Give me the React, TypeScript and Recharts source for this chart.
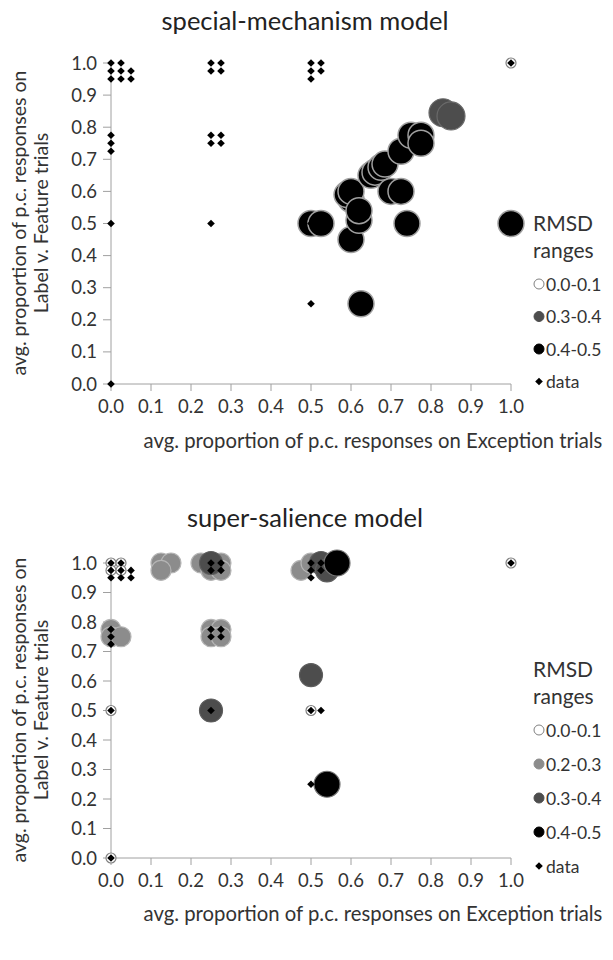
import React from "react";
import {
  ScatterChart,
  Scatter,
  XAxis,
  YAxis,
  Customized,
} from "recharts";

// empirical data (same in both panels)
const empirical = [
  { x: 0, y: 1 }, { x: 0, y: 0.975 }, { x: 0, y: 0.95 },
  { x: 0.025, y: 1 }, { x: 0.025, y: 0.975 }, { x: 0.025, y: 0.95 },
  { x: 0.05, y: 0.975 }, { x: 0.05, y: 0.95 },
  { x: 0, y: 0.775 }, { x: 0, y: 0.75 }, { x: 0, y: 0.725 },
  { x: 0.25, y: 1 }, { x: 0.275, y: 1 }, { x: 0.25, y: 0.975 }, { x: 0.275, y: 0.975 },
  { x: 0.25, y: 0.775 }, { x: 0.275, y: 0.775 }, { x: 0.25, y: 0.75 }, { x: 0.275, y: 0.75 },
  { x: 0, y: 0.5 }, { x: 0.25, y: 0.5 }, { x: 0.5, y: 0.5 }, { x: 0.525, y: 0.5 },
  { x: 0, y: 0 },
  { x: 0.5, y: 1 }, { x: 0.525, y: 1 }, { x: 0.5, y: 0.975 }, { x: 0.525, y: 0.975 }, { x: 0.5, y: 0.95 },
  { x: 0.5, y: 0.25 },
  { x: 1, y: 1 },
];

// special-mechanism model fits
const specWhite = [{ x: 1, y: 1 }];
const specDark = [{ x: 0.83, y: 0.845 }, { x: 0.85, y: 0.835 }];
const specBlack = [
  { x: 0.5, y: 0.5 }, { x: 0.525, y: 0.5 },
  { x: 0.6, y: 0.45 }, { x: 0.625, y: 0.25 },
  { x: 0.74, y: 0.5 }, { x: 1, y: 0.5 },
  { x: 0.6, y: 0.575 }, { x: 0.59, y: 0.59 }, { x: 0.6, y: 0.6 },
  { x: 0.62, y: 0.51 }, { x: 0.62, y: 0.54 },
  { x: 0.65, y: 0.65 }, { x: 0.66, y: 0.66 }, { x: 0.675, y: 0.675 }, { x: 0.685, y: 0.685 },
  { x: 0.7, y: 0.6 }, { x: 0.725, y: 0.6 },
  { x: 0.725, y: 0.725 },
  { x: 0.75, y: 0.775 }, { x: 0.775, y: 0.775 }, { x: 0.775, y: 0.75 },
];

// super-salience model fits
const superWhite = [
  { x: 0, y: 1 }, { x: 0.025, y: 1 }, { x: 0, y: 0.975 }, { x: 0.025, y: 0.975 },
  { x: 0, y: 0.5 }, { x: 0, y: 0 }, { x: 0.5, y: 0.5 }, { x: 1, y: 1 },
];
const superLight = [
  { x: 0, y: 0.775 }, { x: 0, y: 0.75 }, { x: 0.025, y: 0.75 },
  { x: 0.125, y: 1 }, { x: 0.15, y: 1 }, { x: 0.125, y: 0.975 },
  { x: 0.225, y: 1 }, { x: 0.275, y: 1 }, { x: 0.25, y: 0.975 }, { x: 0.275, y: 0.975 },
  { x: 0.25, y: 0.775 }, { x: 0.275, y: 0.775 }, { x: 0.25, y: 0.75 }, { x: 0.275, y: 0.75 },
  { x: 0.475, y: 0.975 }, { x: 0.5, y: 1 },
];
const superDark = [
  { x: 0.25, y: 1 }, { x: 0.525, y: 1 }, { x: 0.54, y: 0.975 },
  { x: 0.25, y: 0.5 }, { x: 0.5, y: 0.62 },
];
const superBlack = [{ x: 0.565, y: 1 }, { x: 0.54, y: 0.25 }];

const ticks = [0, 0.1, 0.2, 0.3, 0.4, 0.5, 0.6, 0.7, 0.8, 0.9, 1];
const specLegend = ["0.0-0.1", "0.3-0.4", "0.4-0.5", "data"];
const superLegend = ["0.0-0.1", "0.2-0.3", "0.3-0.4", "0.4-0.5", "data"];

const FONT = "Lato, 'Open Sans', sans-serif";
const AXIS = "#a0a0a0";
const TXT = "#333";

const colors: any = {
  "0.0-0.1": { fill: "#fff", stroke: "#808080" },
  "0.2-0.3": { fill: "#8c8c8c", stroke: "#b5b5b5" },
  "0.3-0.4": { fill: "#4d4d4d", stroke: "#6a6a6a" },
  "0.4-0.5": { fill: "#000", stroke: "#a0a0a0" },
};

const dot = (r: number, fill: string, stroke: string, sw = 1.2) => (p: any) =>
  <circle cx={p.cx} cy={p.cy} r={r} fill={fill} stroke={stroke} strokeWidth={sw} />;

const diamond = (p: any) => {
  const s = 3.8;
  return (
    <polygon
      points={`${p.cx},${p.cy - s} ${p.cx + s},${p.cy} ${p.cx},${p.cy + s} ${p.cx - s},${p.cy}`}
      fill="#000"
    />
  );
};

const LegendBlock = ({ items, top, gap }: any) => (
  <g fontFamily={FONT} fill={TXT}>
    <text x={533} y={top} fontSize={21} dominantBaseline="central">RMSD</text>
    <text x={533} y={top + 27} fontSize={21} dominantBaseline="central">ranges</text>
    {items.map((it: string, i: number) => {
      const y = top + 62 + i * gap;
      return (
        <g key={it}>
          {it === "data" ? (
            diamond({ cx: 539, cy: y })
          ) : (
            <circle cx={539} cy={y} r={5} fill={colors[it].fill} stroke={it === "0.0-0.1" ? "#808080" : colors[it].fill} strokeWidth={1} />
          )}
          <text x={546} y={y} fontSize={17.5} dominantBaseline="central">{it}</text>
        </g>
      );
    })}
  </g>
);

const Panel = ({ title, series, legend, titleY, labelY, xTitleY, legendTop, legendGap, margin }: any) => (
  <ScatterChart width={613} height={470} margin={margin}>
    <XAxis
      type="number"
      dataKey="x"
      domain={[0, 1]}
      ticks={ticks}
      tickFormatter={(v: number) => v.toFixed(1)}
      stroke={AXIS}
      tickSize={7}
      tickMargin={9}
      height={60}
      tick={{ fill: TXT, fontSize: 18.5, fontFamily: FONT }}
      interval={0}
    />
    <YAxis
      type="number"
      dataKey="y"
      domain={[0, 1]}
      ticks={ticks}
      tickFormatter={(v: number) => v.toFixed(1)}
      stroke={AXIS}
      tickSize={8}
      tickMargin={6}
      width={111}
      tick={{ fill: TXT, fontSize: 18.5, fontFamily: FONT }}
      interval={0}
    />
    {series.map((s: any, i: number) => (
      <Scatter key={i} data={s.data} shape={s.shape} isAnimationActive={false} />
    ))}
    <Scatter data={empirical} shape={diamond} isAnimationActive={false} />
    <Customized
      component={() => (
        <g fontFamily={FONT} fill={TXT}>
          <text x={305} y={titleY} fontSize={25.5} textAnchor="middle" dominantBaseline="central" fill="#222">{title}</text>
          <text transform={`translate(18, ${labelY}) rotate(-90)`} fontSize={19.5} textAnchor="middle" dominantBaseline="central">avg. proportion of p.c. responses on</text>
          <text transform={`translate(40, ${labelY}) rotate(-90)`} fontSize={19.5} textAnchor="middle" dominantBaseline="central">Label v. Feature trials</text>
          <text x={373} y={xTitleY} fontSize={20.3} textAnchor="middle" dominantBaseline="central">avg. proportion of p.c. responses on Exception trials</text>
          <LegendBlock items={legend} top={legendTop} gap={legendGap} />
        </g>
      )}
    />
  </ScatterChart>
);

export default function App() {
  return (
    <div style={{ position: "absolute", left: 0, top: 0, width: 613, height: 960, background: "#fff" }}>
      <Panel
        title="special-mechanism model"
        margin={{ top: 63, right: 102, bottom: 26, left: 0 }}
        titleY={20}
        labelY={223}
        xTitleY={440}
        legendTop={222}
        legendGap={32.5}
        legend={specLegend}
        series={[
          { data: specWhite, shape: dot(5, "#fff", "#808080") },
          { data: specDark, shape: dot(14, "#4d4d4d", "#6a6a6a") },
          { data: specBlack, shape: dot(13, "#000", "#a0a0a0", 1.5) },
        ]}
      />
      <div style={{ position: "absolute", left: 0, top: 490 }}>
        <Panel
          title="super-salience model"
          margin={{ top: 73, right: 102, bottom: 42, left: 0 }}
          titleY={27}
          labelY={220}
          xTitleY={423}
          legendTop={178}
          legendGap={34}
          legend={superLegend}
          series={[
            { data: superWhite, shape: dot(5, "#fff", "#808080") },
            { data: superLight, shape: dot(10, "#8c8c8c", "#b5b5b5") },
            { data: superDark, shape: dot(11.5, "#4d4d4d", "#5e5e5e") },
            { data: superBlack, shape: dot(13, "#000", "#777") },
          ]}
        />
      </div>
    </div>
  );
}
